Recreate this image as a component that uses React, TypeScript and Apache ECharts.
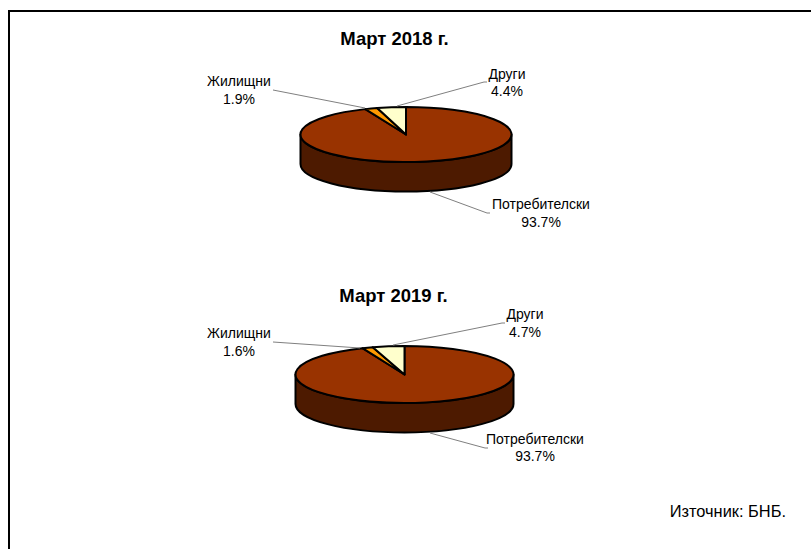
import React, { useEffect, useRef } from "react";
import * as echarts from "echarts";

const categories = ["Потребителски", "Жилищни", "Други"];
const values2018 = [93.7, 1.9, 4.4];
const values2019 = [93.7, 1.6, 4.7];
const titles = ["Март 2018 г.", "Март 2019 г."];
const sourceNote = "Източник: БНБ.";
const sliceColors = ["#993300", "#FF9900", "#FFFFCC"];
const wallColor = "#4D1A00";

const FONT = '"Liberation Sans", Arial, sans-serif';

type Pt = [number, number];
interface Geo {
  cx: number; cy: number; rx: number; ry: number; depth: number;
  labels: Pt[]; leaders: Pt[][];
}

const geo2018: Geo = {
  cx: 406, cy: 134.5, rx: 105.5, ry: 27.5, depth: 29.5,
  labels: [[541, 213], [239, 90], [507, 82.5]],
  leaders: [
    [[430, 192], [487, 213], [490, 213]],
    [[273, 90], [365, 108]],
    [[397, 106], [484, 82], [487, 82]],
  ],
};
const geo2019: Geo = {
  cx: 404.5, cy: 374.5, rx: 109, ry: 28.5, depth: 29.5,
  labels: [[535, 447.5], [239, 342], [525, 323]],
  leaders: [
    [[430, 433], [485, 448], [488, 448]],
    [[273, 342], [360, 348]],
    [[393, 345], [502, 323], [505, 323]],
  ],
};

function pieSeries(values: number[], g: Geo) {
  const total = values.reduce((a, b) => a + b, 0);
  const pt = (t: number, dy = 0): Pt => [
    g.cx + g.rx * Math.sin(t),
    g.cy - g.ry * Math.cos(t) + dy,
  ];
  const renderItem = (params: any, api: any) => {
    const i = params.dataIndex;
    const v = api.value(0) as number;
    let before = 0;
    for (let k = 0; k < i; k++) before += values[k];
    const t0 = (before / total) * 2 * Math.PI;
    const t1 = ((before + v) / total) * 2 * Math.PI;
    const children: any[] = [];
    const line = { stroke: "#000", lineWidth: 2, lineJoin: "round" };

    // visible front wall: the part of the slice between 90 and 270 degrees
    const w0 = Math.max(t0, Math.PI / 2);
    const w1 = Math.min(t1, (3 * Math.PI) / 2);
    if (w1 > w0) {
      const a = pt(w0), b = pt(w1), c = pt(w1, g.depth), d = pt(w0, g.depth);
      children.push({
        type: "path",
        shape: {
          pathData:
            `M${a[0]} ${a[1]}A${g.rx} ${g.ry} 0 0 1 ${b[0]} ${b[1]}` +
            `L${c[0]} ${c[1]}A${g.rx} ${g.ry} 0 0 0 ${d[0]} ${d[1]}Z`,
        },
        style: { fill: wallColor, ...line },
      });
    }
    // top face
    const s = pt(t0), e = pt(t1);
    const large = t1 - t0 > Math.PI ? 1 : 0;
    children.push({
      type: "path",
      shape: {
        pathData:
          `M${g.cx} ${g.cy}L${s[0]} ${s[1]}` +
          `A${g.rx} ${g.ry} 0 ${large} 1 ${e[0]} ${e[1]}Z`,
      },
      style: { fill: sliceColors[i], ...line },
    });
    // leader line
    children.push({
      type: "polyline",
      shape: { points: g.leaders[i] },
      style: { stroke: "#808080", lineWidth: 1, fill: "none" },
      z2: 5,
    });
    // label
    children.push({
      type: "text",
      style: {
        text: `${categories[i]}\n${v.toFixed(1)}%`,
        x: g.labels[i][0],
        y: g.labels[i][1],
        align: "center",
        verticalAlign: "middle",
        font: `14px ${FONT}`,
        lineHeight: 17.5,
        fill: "#000",
      },
      z2: 6,
    });
    return { type: "group", children };
  };
  return {
    type: "custom",
    coordinateSystem: "none",
    silent: true,
    clip: false,
    renderItem,
    data: values.map((v, i) => ({ name: categories[i], value: [v] })),
  };
}

export default function App() {
  const ref = useRef<HTMLDivElement>(null);
  useEffect(() => {
    document.body.style.margin = "0";
    const chart = echarts.init(ref.current!, undefined, { renderer: "svg" });
    chart.setOption({
      animation: false,
      backgroundColor: "#FFFFFF",
      series: [pieSeries(values2018, geo2018), pieSeries(values2019, geo2019)],
      graphic: [
        { type: "line", shape: { x1: 9, y1: 549, x2: 9, y2: 11 }, style: { stroke: "#000", lineWidth: 2 } },
        { type: "line", shape: { x1: 8, y1: 11, x2: 811, y2: 11 }, style: { stroke: "#000", lineWidth: 2 } },
        {
          type: "text", x: 394.5, y: 38,
          style: { text: titles[0], align: "center", verticalAlign: "middle", font: `bold 18.5px ${FONT}`, fill: "#000" },
        },
        {
          type: "text", x: 393.5, y: 295,
          style: { text: titles[1], align: "center", verticalAlign: "middle", font: `bold 18.5px ${FONT}`, fill: "#000" },
        },
        {
          type: "text", x: 786, y: 511,
          style: { text: sourceNote, align: "right", verticalAlign: "middle", font: `16.4px ${FONT}`, fill: "#000" },
        },
      ],
    });
    return () => chart.dispose();
  }, []);
  return <div ref={ref} style={{ position: "absolute", left: 0, top: 0, width: 811, height: 549 }} />;
}
